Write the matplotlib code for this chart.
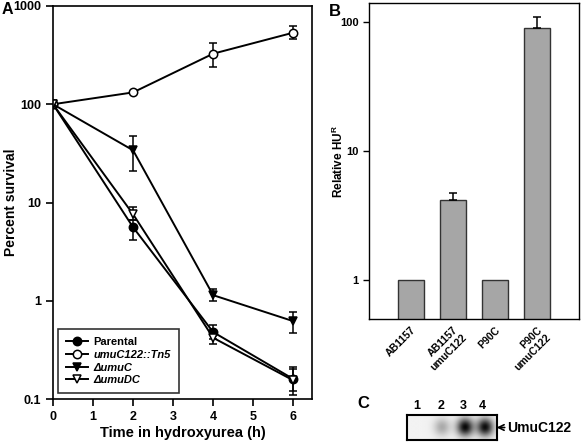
import numpy as np
import matplotlib
matplotlib.use("Agg")
import matplotlib.pyplot as plt
from matplotlib.lines import Line2D

plt.rcParams['font.family'] = ['Liberation Sans', 'DejaVu Sans']
plt.rcParams['font.weight'] = 'bold'
plt.rcParams['mathtext.fontset'] = 'custom'
plt.rcParams['mathtext.rm'] = 'Liberation Sans:bold'

# panel A: survival over time
hours = [0, 2, 4, 6]
parental = [100, 5.6, 0.48, 0.16]
parental_lo = [100, 4.2, 0.41, 0.12]
parental_hi = [100, 6.7, 0.57, 0.20]
tn5 = [100, 132, 327, 535]
tn5_lo = [100, 132, 238, 457]
tn5_hi = [100, 132, 416, 625]
dumuC = [100, 34, 1.14, 0.62]
dumuC_lo = [100, 20.8, 1.0, 0.47]
dumuC_hi = [100, 47, 1.31, 0.76]
dumuDC = [100, 7.6, 0.42, 0.155]
dumuDC_lo = [100, 6.7, 0.36, 0.11]
dumuDC_hi = [100, 8.9, 0.50, 0.21]

# panel B: relative HU resistance
strains = ['AB1157', 'AB1157\numuC122', 'P90C', 'P90C\numuC122']
rel_hur = [1, 4.17, 1, 89.8]
rel_err = [0, 0.6, 0, 20]

# panel C: band intensity per lane
lanes = ['1', '2', '3', '4']
band = [0.0, 0.28, 0.92, 0.9]

fig = plt.figure(figsize=(5.81, 4.42), dpi=100)

# ---- A ----
axA = fig.add_axes([53/581, 1-399/442, 259/581, 393/442])
series = [
    (parental, parental_lo, parental_hi, 'o', 'black', 'Parental', 'normal'),
    (tn5, tn5_lo, tn5_hi, 'o', 'white', 'umuC122::Tn5', 'italic'),
    (dumuC, dumuC_lo, dumuC_hi, 'v', 'black', 'ΔumuC', 'italic'),
    (dumuDC, dumuDC_lo, dumuDC_hi, 'v', 'white', 'ΔumuDC', 'italic'),
]
handles = []
for y, lo, hi, m, fc, lab, st in series:
    y = np.array(y)
    err = [y - np.array(lo), np.array(hi) - y]
    axA.errorbar(hours, y, yerr=err, fmt='-', color='black', lw=1.4,
                 marker=m, mfc=fc, mec='black', ms=6, mew=1.1,
                 capsize=3, elinewidth=1.1, capthick=1.1)
    handles.append(Line2D([], [], color='black', lw=1.4, marker=m, mfc=fc,
                          mec='black', ms=6, mew=1.1, label=lab))
axA.set_yscale('log')
axA.set_ylim(0.1, 1000)
axA.set_xlim(0, 6.47)
axA.set_xticks([0, 1, 2, 3, 4, 5, 6])
axA.set_yticks([0.1, 1, 10, 100, 1000])
axA.set_yticklabels(['0.1', '1', '10', '100', '1000'])
axA.minorticks_off()
axA.tick_params(direction='out', length=5, width=1.2, labelsize=9)
for s in axA.spines.values():
    s.set_linewidth(1.2)
axA.set_xlabel('Time in hydroxyurea (h)', fontsize=10.5, fontweight='bold', labelpad=2)
axA.set_ylabel('Percent survival', fontsize=10, fontweight='bold')
axA.yaxis.set_label_coords(-0.135, 0.5)
leg = axA.legend(handles=handles, loc='lower left', bbox_to_anchor=(0.019, 0.015),
                 borderaxespad=0, fancybox=False, edgecolor='black', fontsize=8,
                 handlelength=2.0, handletextpad=0.5, labelspacing=0.25, borderpad=0.7)
leg.get_frame().set_linewidth(1.2)
for t, s in zip(leg.get_texts(), series):
    t.set_fontstyle(s[6])
fig.text(2/581, 1-10/442, 'A', fontsize=11.5, fontweight='bold', ha='left', va='center')

# ---- B ----
axB = fig.add_axes([369/581, 1-319/442, 210/581, 316/442])
x = np.arange(len(strains))
axB.bar(x, rel_hur, width=0.6, color='#a6a6a6', edgecolor='#333333', lw=1.0)
axB.errorbar(x[[1, 3]], np.array(rel_hur)[[1, 3]], yerr=[[0, 0], np.array(rel_err)[[1, 3]]],
             fmt='none', ecolor='black', capsize=3, elinewidth=1.1, capthick=1.1)
axB.set_yscale('log')
axB.set_ylim(0.5, 140)
axB.set_xlim(-1, 4)
axB.set_yticks([1, 10, 100])
axB.set_yticklabels(['1', '10', '100'])
axB.minorticks_off()
axB.set_xticks(x)
axB.set_xticklabels(strains, rotation=45, ha='right', rotation_mode='anchor', fontsize=7.5)
axB.tick_params(axis='x', length=0, pad=4)
axB.tick_params(axis='y', direction='out', length=4, width=1.0, labelsize=8)
for s in axB.spines.values():
    s.set_linewidth(1.0)
axB.set_ylabel(r'Relative HU$^\mathrm{R}$', fontsize=8.5, fontweight='bold')
axB.yaxis.set_label_coords(-0.11, 0.5)
fig.text(335/581, 1-12/442, 'B', fontsize=12, fontweight='bold', ha='center', va='center')

# ---- C ----
axC = fig.add_axes([406.7/581, 1-440/442, 90/581, 25/442])
lane_x = [0.5, 1.56, 2.59, 3.48]
xx = np.linspace(0, 4, 200)
yy = np.linspace(0, 1, 60)
X, Y = np.meshgrid(xx, yy)
img = np.full_like(X, 0.05)
for cx, b in zip(lane_x, band):
    img += b * np.exp(-((X - cx) / 0.36) ** 2 - ((Y - 0.48) / 0.36) ** 2)
axC.imshow(img, cmap='gray_r', vmin=0, vmax=1, extent=[0, 4, 0, 1], aspect='auto')
axC.set_xticks([])
axC.set_yticks([])
for s in axC.spines.values():
    s.set_linewidth(1.5)
for cx, lab in zip([0.46, 1.52, 2.5, 3.35], lanes):
    axC.text(cx, 1.12, lab, ha='center', va='bottom', fontsize=9, fontweight='bold')
axC.annotate('UmuC122', xy=(1.0, 0.5), xycoords='axes fraction', xytext=(1.12, 0.5),
             textcoords='axes fraction', va='center', ha='left', fontsize=10, fontweight='bold',
             arrowprops=dict(arrowstyle='->', color='black', lw=1.2, shrinkA=0, shrinkB=0))
fig.text(363/581, 1-404/442, 'C', fontsize=12, fontweight='bold', ha='center', va='center')

fig.savefig('out.png', dpi=100)
